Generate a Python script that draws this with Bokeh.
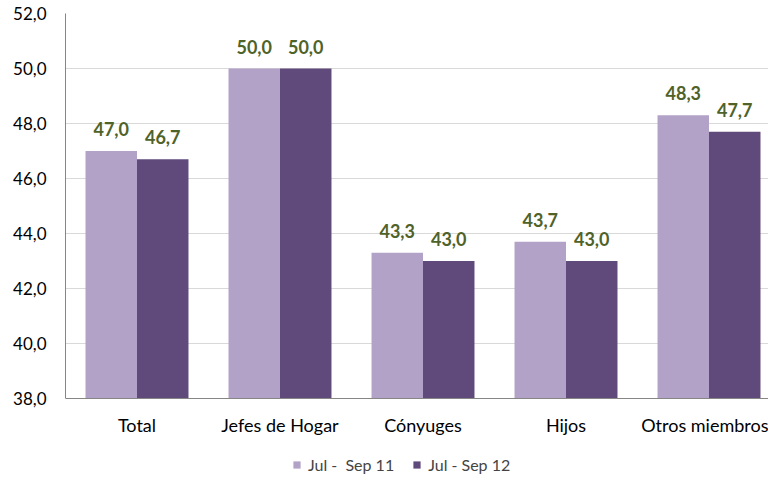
from bokeh.plotting import figure
from bokeh.models import ColumnDataSource, Range1d, FixedTicker, LabelSet, Legend, LegendItem
from bokeh.transform import dodge
from bokeh.core.properties import value
from bokeh.embed import file_html
from bokeh.resources import INLINE

categories = ["Total", "Jefes de Hogar", "Cónyuges", "Hijos", "Otros miembros"]
series_names = ["Jul -  Sep 11", "Jul - Sep 12"]
values_11 = [47.0, 50.0, 43.3, 43.7, 48.3]
values_12 = [46.7, 50.0, 43.0, 43.0, 47.7]
y_ticks = [38, 40, 42, 44, 46, 48, 50, 52]
y_tick_labels = ["38,0", "40,0", "42,0", "44,0", "46,0", "48,0", "50,0", "52,0"]

FONT = "Lato"
LIGHT = "#B3A2C7"
DARK = "#604A7B"
GREEN = "#4F6228"

def fmt(v):
    return f"{v:.1f}".replace(".", ",")

src = ColumnDataSource(dict(
    x=list(range(len(categories))),
    v11=values_11, v12=values_12,
    l11=[fmt(v) for v in values_11], l12=[fmt(v) for v in values_12],
))

y_min, y_max = y_ticks[0], y_ticks[-1]
# frame extends below the value axis to make room for category labels and legend
p = figure(width=768, height=479, output_backend="svg", toolbar_location=None,
           x_range=Range1d(-0.5, 4.416), y_range=Range1d(y_min - 2.945, y_max),
           min_border_left=65, min_border_top=13, min_border_bottom=0, min_border_right=0)
p.outline_line_color = None
p.background_fill_color = "white"

r1 = p.vbar(x=dodge("x", -0.18, range=p.x_range), top="v11", bottom=y_min, width=0.36,
            source=src, fill_color=LIGHT, line_color=None)
r2 = p.vbar(x=dodge("x", 0.18, range=p.x_range), top="v12", bottom=y_min, width=0.36,
            source=src, fill_color=DARK, line_color=None)

for col, off in (("l11", -0.18), ("l12", 0.18)):
    ycol = "v11" if col == "l11" else "v12"
    lab = LabelSet(x=dodge("x", off, range=p.x_range), y=ycol, text=col, source=src,
                   text_align="center", text_baseline="bottom", y_offset=15,
                   text_font=value(FONT), text_font_style="bold", text_font_size="18px",
                   text_color=GREEN)
    p.add_layout(lab)

# axes
p.xaxis.ticker = FixedTicker(ticks=list(range(len(categories))))
p.xaxis.major_label_overrides = {i: c for i, c in enumerate(categories)}
p.xaxis.fixed_location = y_min
p.yaxis.ticker = FixedTicker(ticks=y_ticks)
p.yaxis.major_label_overrides = {t: l for t, l in zip(y_ticks, y_tick_labels)}
p.yaxis.bounds = (y_min, y_max)
for ax in (p.xaxis[0], p.yaxis[0]):
    ax.axis_line_color = "#868686"
    ax.axis_line_width = 1
    ax.major_tick_line_color = None
    ax.minor_tick_line_color = None
    ax.major_label_text_font = FONT
    ax.major_label_text_color = "#000000"
p.xaxis.major_label_text_font_size = "18px"
p.yaxis.major_label_text_font_size = "17px"
p.xaxis.major_label_standoff = 9
p.yaxis.major_label_standoff = 13
p.xgrid.grid_line_color = None
p.ygrid.grid_line_color = "#D9D9D9"
p.ygrid.grid_line_width = 1

legend = Legend(items=[LegendItem(label=series_names[0], renderers=[r1]),
                       LegendItem(label=series_names[1], renderers=[r2])],
                orientation="horizontal", location=(227, 5),
                border_line_color=None, background_fill_alpha=0,
                glyph_width=9, glyph_height=9, spacing=18, label_standoff=7,
                label_text_font=FONT, label_text_font_size="16px", padding=0, margin=0)
p.add_layout(legend, "center")

open("out.html", "w").write(file_html(p, INLINE))
